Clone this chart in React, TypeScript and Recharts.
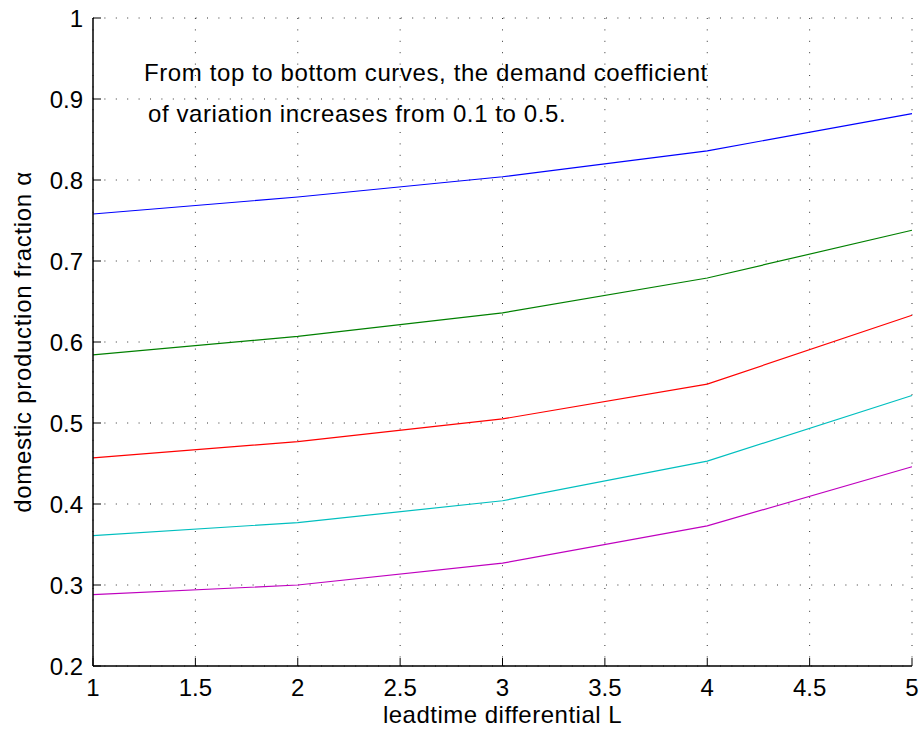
import { LineChart, Line, XAxis, YAxis, CartesianGrid, Label } from 'recharts';

const leadtime = [1, 2, 3, 4, 5];
const cv01 = [0.758, 0.779, 0.804, 0.836, 0.882];
const cv02 = [0.584, 0.607, 0.636, 0.679, 0.738];
const cv03 = [0.457, 0.477, 0.505, 0.548, 0.633];
const cv04 = [0.361, 0.377, 0.404, 0.453, 0.534];
const cv05 = [0.288, 0.3, 0.327, 0.373, 0.446];

const xTicks = [1, 1.5, 2, 2.5, 3, 3.5, 4, 4.5, 5];
const yTicks = [0.2, 0.3, 0.4, 0.5, 0.6, 0.7, 0.8, 0.9, 1];

const SERIES = [
  { key: 'cv01', values: cv01, color: '#0000ff' },
  { key: 'cv02', values: cv02, color: '#008000' },
  { key: 'cv03', values: cv03, color: '#ff0000' },
  { key: 'cv04', values: cv04, color: '#00bfbf' },
  { key: 'cv05', values: cv05, color: '#bf00bf' },
];

const chartData = leadtime.map((L, i) => {
  const row: Record<string, number> = { L };
  SERIES.forEach((s) => {
    row[s.key] = s.values[i];
  });
  return row;
});

const FONT = '"Liberation Sans", Arial, Helvetica, sans-serif';
const tickStyle = { fontSize: 24, fill: '#000', fontFamily: FONT };
const axisLine = { stroke: '#000', strokeWidth: 1.5 };
const tickLine = { stroke: '#000', strokeWidth: 1 };

const App = () => {
  return (
    <div style={{ position: 'absolute', left: 0, top: 0, width: 922, height: 729, background: '#fff' }}>
      <LineChart
        width={922}
        height={729}
        data={chartData}
        margin={{ top: 18, right: 10, bottom: 33, left: 33 }}
      >
        <CartesianGrid stroke="#333" strokeWidth={1} strokeDasharray="1 10.4" />
        <XAxis
          dataKey="L"
          type="number"
          domain={[1, 5]}
          ticks={xTicks}
          height={30}
          tick={tickStyle}
          tickSize={-8}
          tickMargin={21}
          axisLine={axisLine}
          tickLine={tickLine}
        >
          <Label
            content={() => (
              <text
                x={502.5}
                y={723}
                textAnchor="middle"
                fontSize={24}
                fontFamily={FONT}
                letterSpacing={0.5}
                fill="#000"
              >
                leadtime differential L
              </text>
            )}
          />
        </XAxis>
        <XAxis
          xAxisId="top"
          orientation="top"
          dataKey="L"
          type="number"
          domain={[1, 5]}
          ticks={xTicks}
          height={0}
          tick={false}
          tickSize={-8}
          axisLine={axisLine}
          tickLine={tickLine}
        />
        <YAxis
          type="number"
          domain={[0.2, 1]}
          ticks={yTicks}
          width={60}
          tick={tickStyle}
          tickSize={-8}
          tickMargin={18}
          axisLine={axisLine}
          tickLine={tickLine}
        >
          <Label
            content={() => (
              <g>
                <text
                  x={22}
                  y={342}
                  transform="rotate(-90 22 342)"
                  textAnchor="middle"
                  dominantBaseline="central"
                  fontSize={24}
                  fontFamily={FONT}
                  letterSpacing={0.7}
                  fill="#000"
                >
                  domestic production fraction α
                </text>
                <text x={144} y={81} fontSize={24} fontFamily={FONT} letterSpacing={0.6} fill="#000">
                  From top to bottom curves, the demand coefficient
                </text>
                <text x={148} y={122} fontSize={24} fontFamily={FONT} letterSpacing={0.6} fill="#000">
                  of variation increases from 0.1 to 0.5.
                </text>
              </g>
            )}
          />
        </YAxis>
        <YAxis
          yAxisId="right"
          orientation="right"
          type="number"
          domain={[0.2, 1]}
          ticks={yTicks}
          width={0}
          tick={false}
          tickSize={-8}
          axisLine={axisLine}
          tickLine={tickLine}
        />
        {SERIES.map((s) => (
          <Line
            key={s.key}
            type="linear"
            dataKey={s.key}
            stroke={s.color}
            strokeWidth={1.2}
            dot={false}
            isAnimationActive={false}
          />
        ))}
      </LineChart>
    </div>
  );
};

export default App;
